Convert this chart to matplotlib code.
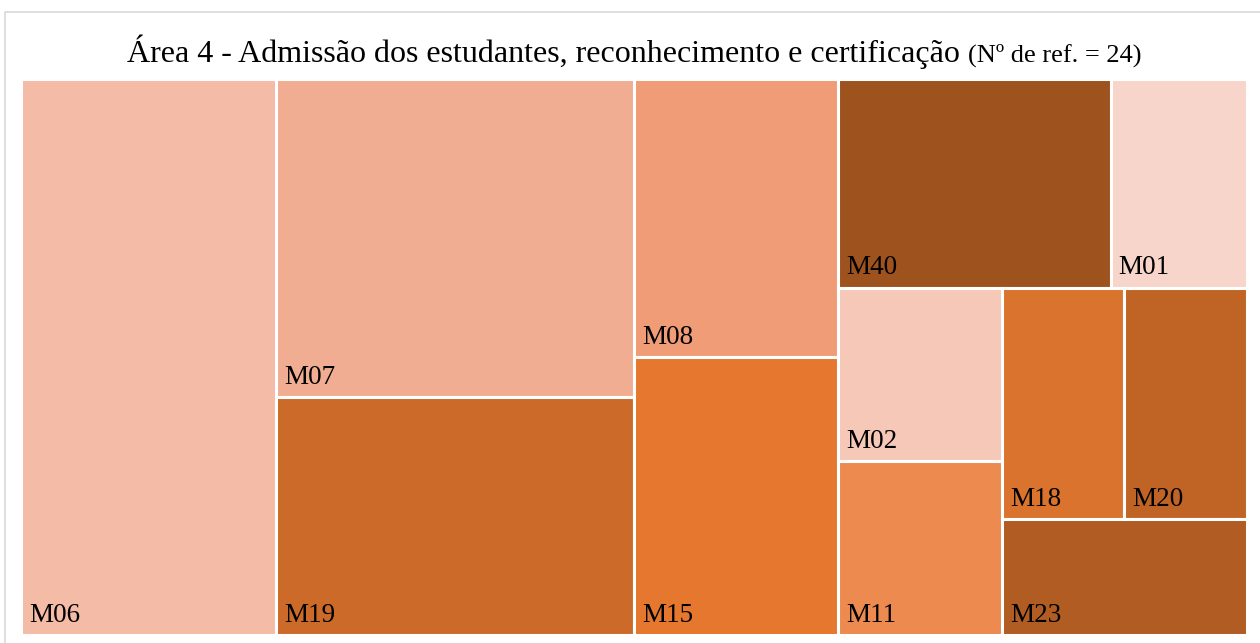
import matplotlib.pyplot as plt
from matplotlib.patches import Rectangle

# Data (references per item, sorted as in the chart)
labels = ['M06', 'M07', 'M19', 'M08', 'M15', 'M40', 'M01', 'M02', 'M11', 'M18', 'M20', 'M23']
values = [5, 4, 3, 2, 2, 2, 1, 1, 1, 1, 1, 1]
colors = ['#F4BBA7', '#F1AD92', '#CC6B29', '#EF9C77', '#E5782E', '#9E521E',
          '#F8D5CA', '#F6C8B8', '#ED8A50', '#DA732E', '#C06426', '#B05C22']
# how many consecutive items go into each strip of the treemap
strips = [1, 2, 2, 2, 2, 2, 1]

title_main = 'Área 4 - Admissão dos estudantes, reconhecimento e certificação'
title_small = '(Nº de ref. = 24)'


def strip_layout(vals, x, y, w, h, strips):
    """Strip treemap: each strip runs along the shorter side of what is left."""
    scale = w * h / sum(vals)
    rects = []
    i = 0
    for n in strips:
        group = vals[i:i + n]
        area = sum(group) * scale
        if w >= h:
            sw = area / h
            yy = y
            for v in group:
                hh = v * scale / sw
                rects.append((x, yy, sw, hh))
                yy += hh
            x += sw
            w -= sw
        else:
            sh = area / w
            xx = x
            for v in group:
                ww = v * scale / sh
                rects.append((xx, y, ww, sh))
                xx += ww
            y += sh
            h -= sh
        i += n
    return rects


W, H = 1260, 643
fig = plt.figure(figsize=(W / 100, H / 100), dpi=100)
fig.patch.set_facecolor('white')

# light frame of the chart area (only top/left edges visible)
fig.patches.append(Rectangle((5 / W, -0.05), 1.2, 1 - 12 / H + 0.05,
                             transform=fig.transFigure, fill=False,
                             edgecolor='#D9D9D9', linewidth=1.2))

left, right, top, bottom = 21, 1247, 79, 635
ax = fig.add_axes([left / W, 1 - bottom / H, (right - left) / W, (bottom - top) / H])
aw, ah = right - left, bottom - top
ax.set_xlim(0, aw)
ax.set_ylim(ah, 0)
ax.axis('off')

for (x, y, w, h), lab, c in zip(strip_layout(values, 0, 0, aw, ah, strips), labels, colors):
    ax.add_patch(Rectangle((x, y), w, h, facecolor=c, edgecolor='white', linewidth=2.2))
    ax.text(x + 8, y + h - 13, lab, ha='left', va='baseline', fontsize=19.5,
            family='Liberation Serif', color='black')

# title in two sizes, centred as one line
t1 = fig.text(0.5, 1 - 62 / H, title_main, ha='left', va='baseline',
              fontsize=23, family='Liberation Serif')
t2 = fig.text(0.5, 1 - 62 / H, title_small, ha='left', va='baseline',
              fontsize=19, family='Liberation Serif')
fig.canvas.draw()
r = fig.canvas.get_renderer()
w1 = t1.get_window_extent(r).width
w2 = t2.get_window_extent(r).width
gap = 8
x0 = (634 - (w1 + gap + w2) / 2) / W
t1.set_x(x0)
t2.set_x(x0 + (w1 + gap) / W)

fig.savefig('out.png', dpi=100)
